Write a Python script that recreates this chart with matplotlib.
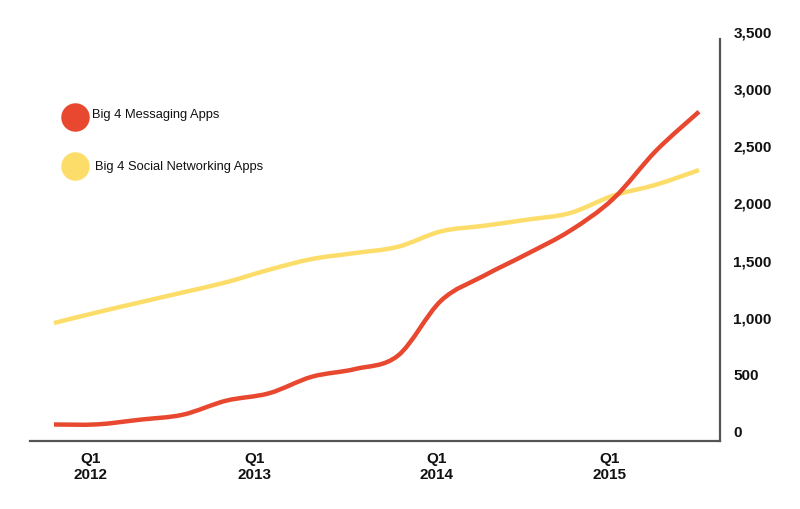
import matplotlib
matplotlib.use("Agg")
import matplotlib.pyplot as plt
from matplotlib.path import Path
from matplotlib.patches import PathPatch
from matplotlib.lines import Line2D
import numpy as np

plt.rcParams['font.family'] = ['Liberation Sans', 'DejaVu Sans']

# Quarterly data, Q4 2011 .. Q3 2015 (millions of monthly active users)
quarters = ["Q4 2011", "Q1 2012", "Q2 2012", "Q3 2012", "Q4 2012",
            "Q1 2013", "Q2 2013", "Q3 2013", "Q4 2013",
            "Q1 2014", "Q2 2014", "Q3 2014", "Q4 2014",
            "Q1 2015", "Q2 2015", "Q3 2015"]
messaging = [57, 58, 99, 143, 265, 330, 475, 542, 660,
             1140, 1359, 1549, 1752, 2030, 2452, 2794]
social = [945, 1038, 1126, 1213, 1301, 1411, 1505, 1557, 1612,
          1747, 1796, 1849, 1907, 2059, 2155, 2283]

tick_pos = [0.84, 4.67, 8.9, 12.93]
tick_labels = ["Q1\n2012", "Q1\n2013", "Q1\n2014", "Q1\n2015"]
y_ticks = [0, 500, 1000, 1500, 2000, 2500, 3000, 3500]
series_names = ["Big 4 Messaging Apps", "Big 4 Social Networking Apps"]

RED = "#E8482F"
YELLOW = "#FCDD6A"
SPINE = "#555555"

W, H = 800, 510
fig = plt.figure(figsize=(W / 100, H / 100), dpi=100)

# axes geometry in pixels
px_left, px_right = 30, 720
px_bottom = 442
ppu = 400 / 3500.0           # pixels per unit
y_bottom = -10 / ppu          # data value at the x-axis line
y_top = 3560
px_top = 432 - y_top * ppu
ax = fig.add_axes([px_left / W, (H - px_bottom) / H,
                   (px_right - px_left) / W, (px_bottom - px_top) / H])

x_first_px, step_px = 54, 43.0
ax.set_xlim((px_left - x_first_px) / step_px,
            (px_right - x_first_px) / step_px)
ax.set_ylim(y_bottom, y_top)


def smooth_path(xs, ys, tension=1 / 6.0):
    xs = np.asarray(xs, float)
    ys = np.asarray(ys, float)
    n = len(xs)
    verts = [(xs[0], ys[0])]
    codes = [Path.MOVETO]
    for i in range(n - 1):
        p0 = np.array([xs[max(i - 1, 0)], ys[max(i - 1, 0)]])
        p1 = np.array([xs[i], ys[i]])
        p2 = np.array([xs[i + 1], ys[i + 1]])
        p3 = np.array([xs[min(i + 2, n - 1)], ys[min(i + 2, n - 1)]])
        c1 = p1 + (p2 - p0) * tension
        c2 = p2 - (p3 - p1) * tension
        verts += [tuple(c1), tuple(c2), tuple(p2)]
        codes += [Path.CURVE4] * 3
    return Path(verts, codes)


idx = np.arange(len(quarters))
for vals, col in [(social, YELLOW), (messaging, RED)]:
    patch = PathPatch(smooth_path(idx, vals), facecolor="none",
                      edgecolor=col, lw=3.2, capstyle="butt",
                      joinstyle="round")
    ax.add_patch(patch)

# spines
for s in ["top", "left"]:
    ax.spines[s].set_visible(False)
ax.spines["right"].set_color(SPINE)
ax.spines["bottom"].set_color(SPINE)
ax.spines["right"].set_linewidth(1.6)
ax.spines["bottom"].set_linewidth(1.6)
ax.spines["right"].set_bounds(y_bottom, (432 - 40) / ppu)

ax.yaxis.tick_right()
ax.set_yticks(y_ticks)
ax.set_yticklabels([f"{v:,}" for v in y_ticks], fontsize=11,
                   fontweight="bold", color="#111111")
ax.tick_params(axis="y", length=0, pad=9.5)
ax.set_xticks(tick_pos)
ax.set_xticklabels(tick_labels, fontsize=11, fontweight="bold",
                   color="#111111", linespacing=1.15)
ax.tick_params(axis="x", length=0, pad=7.5)

# legend
for (cy, ty, tx), name, col in zip([(118, 115, 92), (167, 167, 95)],
                                   series_names, [RED, YELLOW]):
    fig.add_artist(Line2D([75 / W], [1 - cy / H], marker="o",
                          markersize=20.5, color=col, markeredgewidth=0,
                          transform=fig.transFigure))
    fig.text(tx / W, 1 - ty / H, name, fontsize=9.3, color="#111111",
             va="center", ha="left")

fig.savefig("out.png", dpi=100)
